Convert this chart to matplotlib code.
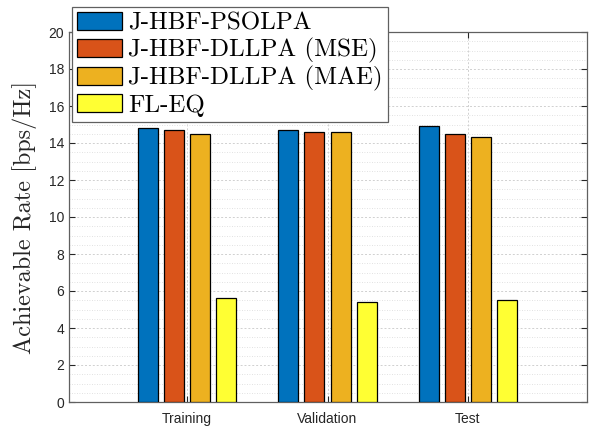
import numpy as np
import matplotlib
matplotlib.use("Agg")
import matplotlib.pyplot as plt
from matplotlib.ticker import MultipleLocator

# data
categories = ["Training", "Validation", "Test"]
series_names = ["J-HBF-PSOLPA", "J-HBF-DLLPA (MSE)", "J-HBF-DLLPA (MAE)", "FL-EQ"]
psolpa = [14.8, 14.7, 14.9]
dllpa_mse = [14.7, 14.6, 14.5]
dllpa_mae = [14.5, 14.6, 14.3]
fl_eq = [5.6, 5.4, 5.5]

colors = ["#0072BD", "#D95319", "#EDB120", "#FFFF33"]
series = [psolpa, dllpa_mse, dllpa_mae, fl_eq]

plt.rcParams["font.family"] = ["Liberation Sans", "DejaVu Sans"]

fig = plt.figure(figsize=(5.89, 4.26), dpi=100)
ax = fig.add_axes([69 / 589, 1 - 402 / 426, (587 - 69) / 589, (402 - 32) / 426])

x = np.arange(1, len(categories) + 1)
width = 0.143
step = 0.186
for i, (vals, col, name) in enumerate(zip(series, colors, series_names)):
    ax.bar(x + (i - 1.5) * step, vals, width, color=col, edgecolor="black",
           linewidth=0.9, label=name, zorder=3)

ax.set_xlim(0.157, 3.85)
ax.set_ylim(0, 20)
ax.set_xticks(x)
ax.set_xticklabels(categories)
ax.yaxis.set_major_locator(MultipleLocator(2))
ax.yaxis.set_minor_locator(MultipleLocator(0.5))

ax.grid(True, which="major", linestyle=(0, (2, 2)), color="#d0d0d0", linewidth=0.7, zorder=0)
ax.grid(True, which="minor", axis="y", linestyle=(0, (1, 2)), color="#d8d8d8", linewidth=0.6, zorder=0)

ax.tick_params(which="both", direction="in", top=True, right=True, labelsize=10,
               colors="#262626", length=4)
ax.tick_params(which="minor", length=0)
ax.tick_params(axis="x", pad=7)
for s in ax.spines.values():
    s.set_color("#606060")
    s.set_linewidth(0.9)

ax.set_ylabel("Achievable Rate [bps/Hz]", family="cmr10", fontsize=17.5,
              color="#262626", labelpad=8)

leg = fig.legend(loc="upper left", bbox_to_anchor=(72 / 589, 1 - 7 / 426),
                 prop={"family": "cmr10", "size": 18}, frameon=True,
                 fancybox=False, edgecolor="#606060", framealpha=1,
                 handlelength=1.8, handleheight=0.75, handletextpad=0.25,
                 labelspacing=0.12, borderpad=0.2, borderaxespad=0)
leg.get_frame().set_linewidth(0.9)

fig.savefig("out.png", dpi=100)
